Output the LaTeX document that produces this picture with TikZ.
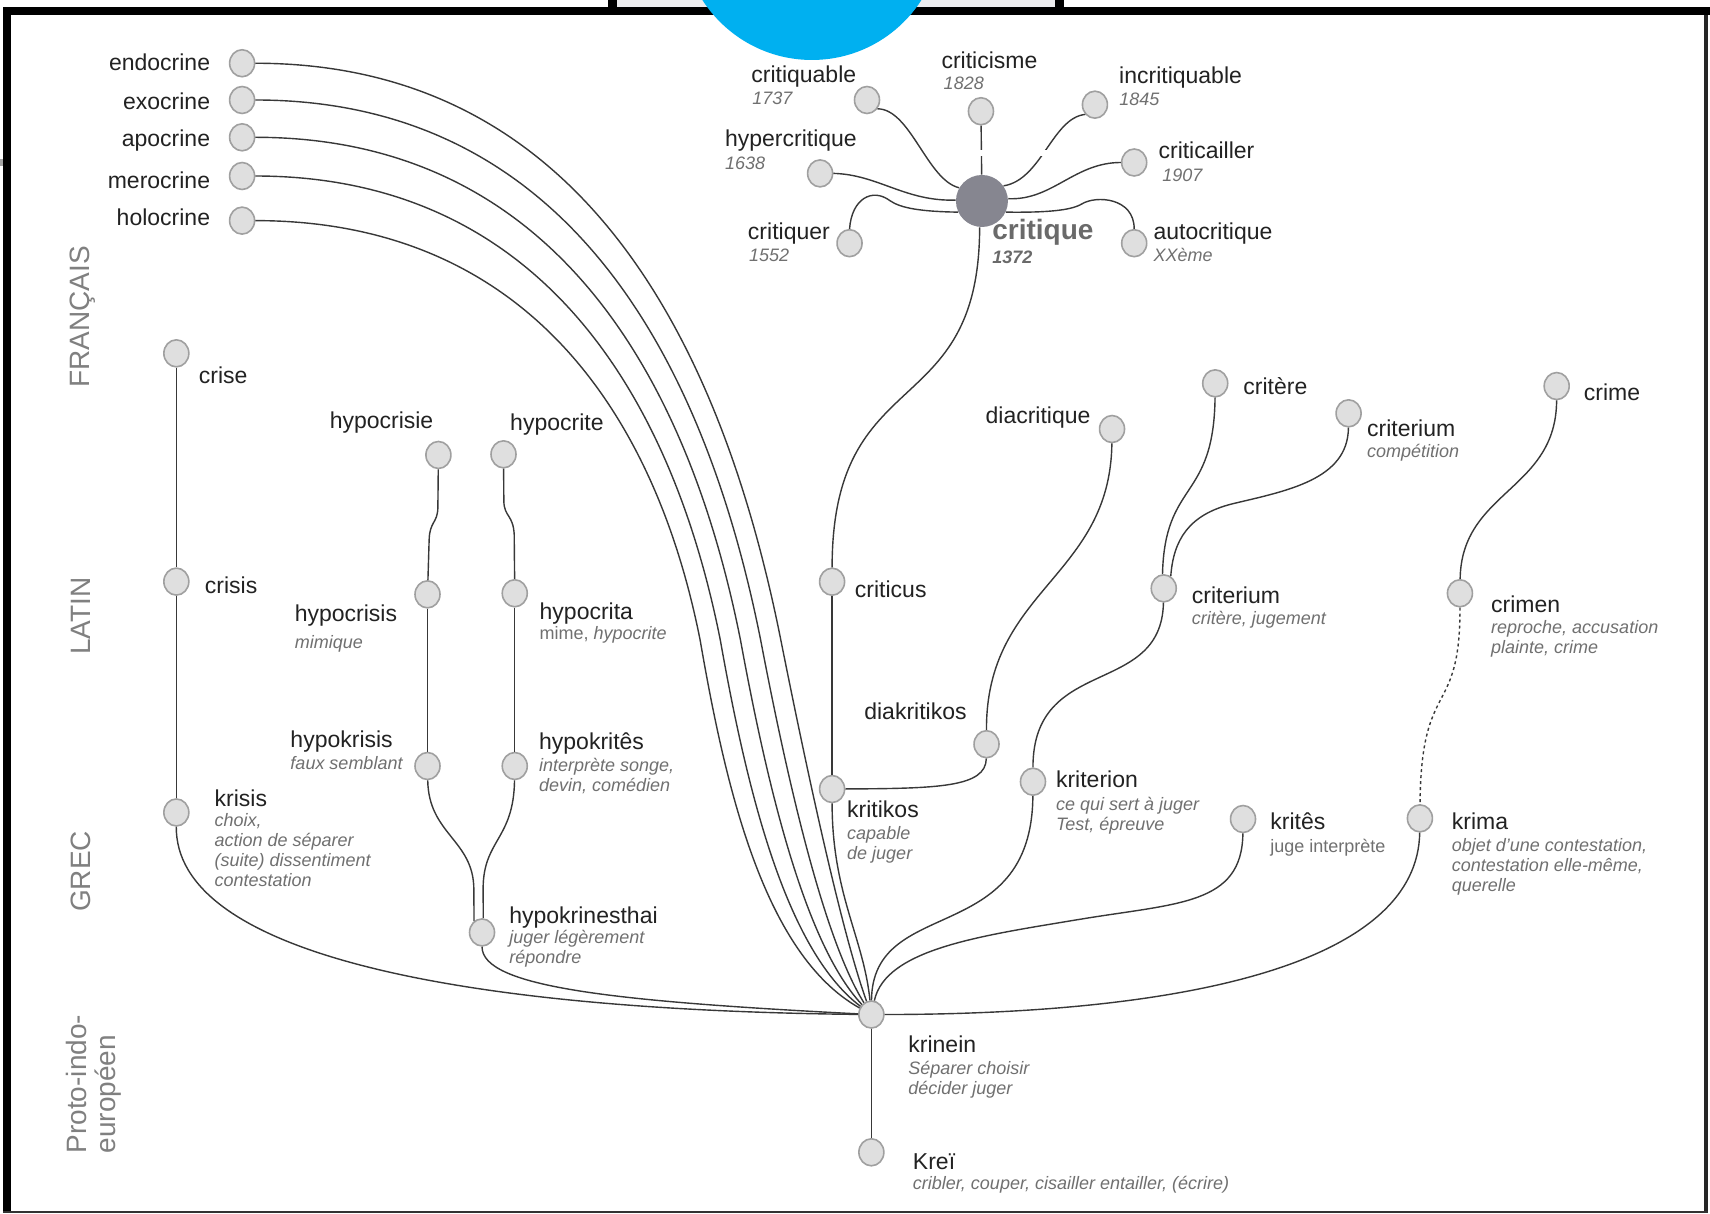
\documentclass[tikz,border=0pt]{standalone}
\usepackage{fontspec}
\setmainfont{Liberation Sans}
\usetikzlibrary{shapes.geometric}

\definecolor{ink}{HTML}{222222}
\definecolor{subc}{HTML}{707070}
\definecolor{langc}{HTML}{808080}
\definecolor{edgec}{HTML}{383838}
\definecolor{dotfill}{HTML}{DFDFDF}
\definecolor{dotline}{HTML}{A0A0A0}
\definecolor{hubc}{HTML}{868690}
\definecolor{hubtext}{HTML}{6A6A6A}
\definecolor{sky}{HTML}{00B0F0}
\definecolor{tabgray}{HTML}{EDEDEF}

% stacked lines whose baseline is the first line's baseline
\newcommand\vlines[2][10pt]{\vtop{\baselineskip=#1\relax\lineskiplimit=-\maxdimen\halign{##\hfil\cr#2\crcr}}}

\tikzset{
  dot/.style={ellipse, draw=dotline, fill=dotfill, line width=0.8pt,
              minimum width=12.5pt, minimum height=13.5pt, inner sep=0pt},
  hubdot/.style={circle, fill=hubc, minimum size=26pt, inner sep=0pt},
  word/.style={font=\fontsize{11.5}{13}\selectfont, text=ink, inner sep=0pt, anchor=base west},
  gloss/.style={font=\fontsize{9}{10}\selectfont\itshape, text=subc, inner sep=0pt, anchor=base west},
  era/.style={font=\fontsize{14}{14.25}\selectfont, text=langc, inner sep=0pt, rotate=90, anchor=base west},
  link/.style={draw=edgec, line width=0.7pt},
}

\begin{document}
\begin{tikzpicture}[x=0.5453pt, y=-0.5453pt]
\useasboundingbox (0,0) rectangle (1568,1112.3);
\clip (0,0) rectangle (1568,1112.3);

% ---------- page frame ----------
\fill[white] (0,0) rectangle (1568,1112.3);
\fill[tabgray] (565.7,0) rectangle (967.4,6.4);
\fill[black] (557.5,0) rectangle (565.7,6.4);
\fill[black] (967.4,0) rectangle (975.6,6.4);
\fill[black] (3,6.4) rectangle (1568,13.75);
\fill[black] (3,6.4) rectangle (10.1,1112.3);
\fill[black!85] (1562.5,13.75) rectangle (1566.3,1112.3);
\fill[black!80] (3,1110.4) rectangle (1566.3,1112.3);
\fill[gray!70] (0,146) rectangle (3,152.5);

% ---------- period labels ----------
\node[era] (fr) at (82.5,355.8) {FRANÇAIS};
\node[era] (la) at (83,600.6) {LATIN};
\node[era] (gr) at (83,836.5) {GREC};
\node[era] (pie) at (79.5,1058) {\vlines[14.25pt]{Proto-indo-\cr européen}};

% ---------- word nodes ----------
% glandular family
\node[dot] (endo) at (222,58) {};
\node[dot] (exo)  at (222,91.7) {};
\node[dot] (apo)  at (222,125.9) {};
\node[dot] (mero) at (222,161.4) {};
\node[dot] (holo) at (222,202.3) {};

% critique family
\node[hubdot] (crit) at (900.4,184.3) {};
\node[dot] (crcism) at (899.5,102) {};
\node[dot] (crqable) at (795,91.7) {};
\node[dot] (hyperc) at (752,159) {};
\node[dot] (crquer) at (779,223) {};
\node[dot] (incrit) at (1004,96) {};
\node[dot] (crcail) at (1040,149) {};
\node[dot] (autoc) at (1040,223) {};

% crise / hypocrisie
\node[dot] (crise) at (161.7,324) {};
\node[dot] (crisis) at (161.7,533.3) {};
\node[dot] (krisis) at (161.7,745) {};
\node[dot] (hcrisie) at (402,417.2) {};
\node[dot] (hcrite) at (461.7,416.6) {};
\node[dot] (hcrisis) at (392,545) {};
\node[dot] (hcrita) at (472,544) {};
\node[dot] (hkrisis) at (392,702.4) {};
\node[dot] (hkrites) at (472,702.4) {};
\node[dot] (hkrin) at (442,855) {};

% criticus / criterium / crimen
\node[dot] (criticus) at (763,533.4) {};
\node[dot] (kritikos) at (763,723.5) {};
\node[dot] (diak) at (904.6,682.4) {};
\node[dot] (diacr) at (1019.7,393.4) {};
\node[dot] (critere) at (1114.3,351.5) {};
\node[dot] (critfr) at (1236.6,379) {};
\node[dot] (critla) at (1067.1,539.5) {};
\node[dot] (kriterion) at (947.2,716.8) {};
\node[dot] (krites) at (1139.8,751) {};
\node[dot] (crime) at (1427.4,354) {};
\node[dot] (crimen) at (1338.7,544) {};
\node[dot] (krima) at (1302,750.4) {};
\node[dot] (krin) at (799,930.3) {};
\node[dot] (krei) at (799,1056.6) {};

% ---------- labels ----------
\node[word, anchor=base east] (endo-l) at (193,65.1) {endocrine};
\node[word, anchor=base east] (exo-l)  at (193,100.2) {exocrine};
\node[word, anchor=base east] (apo-l)  at (193,133.9) {apocrine};
\node[word, anchor=base east] (mero-l) at (193,172.7) {merocrine};
\node[word, anchor=base east] (holo-l) at (193,207.2) {holocrine};

\node[word] (crqable-l) at (688.6,75.8) {critiquable};
\node[gloss] (crqable-d) at (689.5,95.7) {1737};
\node[word] (hyperc-l) at (664.5,134.5) {hypercritique};
\node[gloss] (hyperc-d) at (664.5,155.2) {1638};
\node[word] (crquer-l) at (685.5,219.4) {critiquer};
\node[gloss] (crquer-d) at (686.5,240) {1552};
\node[word] (crcism-l) at (863,62.7) {criticisme};
\node[gloss] (crcism-d) at (865,81.9) {1828};
\node[word] (incrit-l) at (1025.9,76.4) {incritiquable};
\node[gloss] (incrit-d) at (1026,97.2) {1845};
\node[word] (crcail-l) at (1062,145.2) {criticailler};
\node[gloss] (crcail-d) at (1065.5,166.6) {1907};
\node[word] (autoc-l) at (1057.4,219.4) {autocritique};
\node[gloss] (autoc-d) at (1057.4,240) {XXème};
\node[anchor=base west, inner sep=0pt, text=hubtext, font=\fontsize{14}{16}\selectfont\bfseries] (crit-l) at (909.6,220) {critique};
\node[gloss, text=hubtext, font=\fontsize{9}{10}\selectfont\bfseries\itshape] (crit-d) at (909.6,241.5) {1372};

\node[word] (crise-l) at (182,351.5) {crise};
\node[word] (crisis-l) at (187.5,544) {crisis};
\node[word] (krisis-l) at (196.5,739.3) {krisis};
\node[gloss] (krisis-g) at (196.5,757.8) {\vlines{choix,\cr action de séparer\cr (suite) dissentiment\cr contestation}};
\node[word] (hcrisie-l) at (302,392.7) {hypocrisie};
\node[word] (hcrite-l) at (467.5,395) {hypocrite};
\node[word] (hcrisis-l) at (270,570) {hypocrisis};
\node[gloss] (hcrisis-g) at (270,594.5) {mimique};
\node[word] (hcrita-l) at (494.5,568.5) {hypocrita};
\node[gloss] (hcrita-g) at (494.5,586.8) {{\upshape mime,} hypocrite};
\node[word] (hkrisis-l) at (266,685.7) {hypokrisis};
\node[gloss] (hkrisis-g) at (266,705.8) {faux semblant};
\node[word] (hkrites-l) at (494,687.3) {hypokritês};
\node[gloss] (hkrites-g) at (494,707.5) {\vlines{interprète songe,\cr devin, comédien}};
\node[word] (hkrin-l) at (466.7,846.6) {hypokrinesthai};
\node[gloss] (hkrin-g) at (466.7,865.6) {\vlines{juger légèrement\cr répondre}};

\node[word] (criticus-l) at (783.6,547.7) {criticus};
\node[word] (diak-l) at (792.2,660) {diakritikos};
\node[word] (kritikos-l) at (776.5,749.4) {kritikos};
\node[gloss] (kritikos-g) at (776.5,769.5) {\vlines{capable\cr de juger}};
\node[word] (diacr-l) at (903.4,388.2) {diacritique};
\node[word] (critere-l) at (1139.8,362.2) {critère};
\node[word] (critfr-l) at (1253.2,400.4) {criterium};
\node[gloss] (critfr-g) at (1253.2,419.3) {compétition};
\node[word] (critla-l) at (1092.5,553.2) {criterium};
\node[gloss] (critla-g) at (1092.5,572.2) {critère, jugement};
\node[word] (kriterion-l) at (968,722.5) {kriterion};
\node[gloss] (kriterion-g) at (968,743.6) {\vlines{ce qui sert à juger\cr Test, épreuve}};
\node[word] (krites-l) at (1164.5,761) {kritês};
\node[gloss, font=\fontsize{9}{10}\selectfont] (krites-g) at (1164.5,781.3) {juge interprète};
\node[word] (crime-l) at (1452,367.4) {crime};
\node[word] (crimen-l) at (1367,561.8) {crimen};
\node[gloss] (crimen-g) at (1367,580.7) {\vlines{reproche, accusation\cr plainte, crime}};
\node[word] (krima-l) at (1331,760.4) {krima};
\node[gloss] (krima-g) at (1331,780.6) {\vlines{objet d'une contestation,\cr contestation elle-même,\cr querelle}};
\node[word] (krin-l) at (832.6,964.9) {krinein};
\node[gloss] (krin-g) at (832.6,985.7) {\vlines{Séparer choisir\cr décider juger}};
\node[word] (krei-l) at (836.8,1072) {Kreï};
\node[gloss] (krei-g) at (836.8,1091) {cribler, couper, cisailler entailler, (écrire)};

% ---------- connectors ----------
% glandular words sweeping down into krinein
\draw[link] (endo) .. controls (523,58) and (658,296) .. (716,587)
  .. controls (736,687) and (770,850) .. (krin);
\draw[link] (exo) .. controls (512,91.7) and (643.5,315.75) .. (697.5,587)
  .. controls (718.25,695.25) and (752.5,856.25) .. (krin);
\draw[link] (apo) .. controls (501,125.9) and (629,335.5) .. (679,587)
  .. controls (700.5,703.5) and (735,862.5) .. (krin);
\draw[link] (mero) .. controls (490,161.4) and (614.5,355.25) .. (660.5,587)
  .. controls (682.75,711.75) and (717.5,868.75) .. (krin);
\draw[link] (holo) .. controls (479,202.3) and (600,375) .. (642,587)
  .. controls (665,720) and (700,875) .. (krin);

% around critique
\draw[link] (crqable.-40) .. controls (835,100) and (850,165) .. (crit.150);
\draw[link] (hyperc.east) .. controls (805,160) and (830,185) .. (crit.178);
\draw[link] (crquer.north) .. controls (781,182) and (800,172) .. (816,184)
  .. controls (826,191) and (845,194) .. (crit.205);
\draw[link] (crcism) -- (crit);
\draw[link] (incrit.225) .. controls (965,108) and (955,165) .. (crit.35);
\draw[link] (crcail.west) .. controls (985,149) and (965,184) .. (crit.5);
\draw[link] (autoc.north) .. controls (1040,181) and (1005,179) .. (992,187)
  .. controls (982,193) and (960,195) .. (crit.-25);
\fill[white] (888,137.5) rectangle (966,143.5);
\draw[link] (crit.-95) .. controls (898,390) and (763,330) .. (criticus);
\draw[link] (criticus) -- (kritikos);
\draw[link] (kritikos) .. controls (763,820) and (792,860) .. (krin);

% crise line
\draw[link] (crise) -- (crisis);
\draw[link] (crisis) -- (krisis);
\draw[link] (krisis) .. controls (161,870) and (400,926) .. (krin);

% hypocrisie / hypocrite lines
\draw[link] (hcrisie) -- (401.5,466) .. controls (401,480) and (394,478) .. (393.5,495) -- (hcrisis);
\draw[link] (hcrite) -- (462,460) .. controls (462.5,474) and (470.5,472) .. (471.5,490) -- (hcrita);
\draw[link] (hcrisis) -- (hkrisis);
\draw[link] (hcrita) -- (hkrites);
\draw[link] (hkrisis) .. controls (393,765) and (434,770) .. (434.5,815) -- (hkrin.125);
\draw[link] (hkrites) .. controls (471,770) and (443,770) .. (443,815) -- (hkrin.85);
\draw[link] (hkrin) .. controls (442,905) and (560,918) .. (krin);

% diacritique
\draw[link] (diacr) .. controls (1018,530) and (904,540) .. (diak);
\draw[link] (diak) .. controls (904,722) and (860,723) .. (kritikos);

% critere / criterium
\draw[link] (critere) .. controls (1113,460) and (1068,440) .. (critla.95);
\draw[link] (critfr) .. controls (1236,440) and (1180,450) .. (1130,462)
  .. controls (1090,472) and (1076,495) .. (critla.60);
\draw[link] (critla) .. controls (1065,640) and (947,600) .. (kriterion);
\draw[link] (kriterion) .. controls (946,870) and (800,820) .. (krin);

% krites
\draw[link] (krites) .. controls (1139,830) and (1080,828) .. (990,843)
  .. controls (900,858) and (812,870) .. (krin);

% crime / crimen / krima
\draw[link] (crime) .. controls (1427,450) and (1340,450) .. (crimen);
\draw[link, dash pattern=on 1.5pt off 1.5pt] (crimen) .. controls (1339,660) and (1303,620) .. (krima);
\draw[link] (krima) .. controls (1300,880) and (1100,930) .. (krin);

% root
\draw[link] (krin) -- (krei);

% ---------- badge over the top edge ----------
\fill[sky] (744.5,-64.2) circle (119.2);
\end{tikzpicture}
\end{document}
